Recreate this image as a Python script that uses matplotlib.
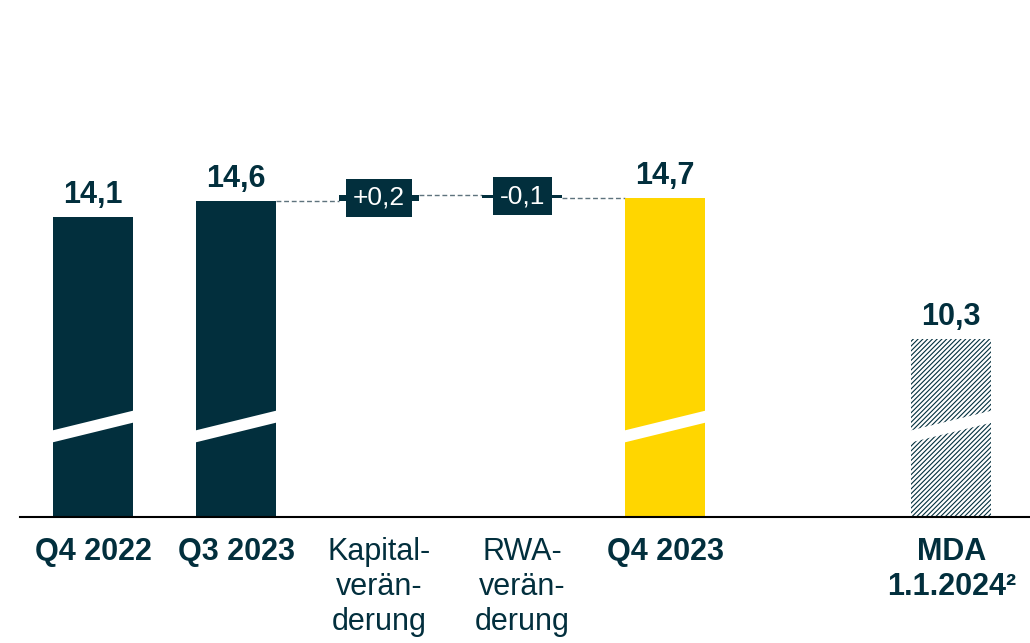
import numpy as np
import matplotlib
matplotlib.use("Agg")
from matplotlib import pyplot as plt
from matplotlib.patches import Polygon

# Data
categories = ["Q4 2022", "Q3 2023", "Kapital-\nverän-\nderung", "RWA-\nverän-\nderung", "Q4 2023", "MDA\n1.1.2024²"]
positions = [0, 1, 2, 3, 4, 6]
totals = [14.1, 14.6, None, None, 14.7, 10.3]
deltas = [None, None, 0.2, -0.1, None, None]
value_labels = ["14,1", "14,6", "+0,2", "-0,1", "14,7", "10,3"]
bold_labels = [True, True, False, False, True, True]

# Style
dark = "#022F3D"
yellow = "#FFD600"
dash_col = "#5E737D"
plt.rcParams['font.family'] = ['Liberation Sans', 'DejaVu Sans']
plt.rcParams['hatch.linewidth'] = 0.8

base = 4.725          # value at the (broken) baseline
px = 32.0             # pixels per unit
w = 0.56              # bar width

fig = plt.figure(figsize=(10.30, 6.43), dpi=100)
ax = fig.add_axes([20 / 1030, 126 / 643, 1010 / 1030, 517 / 643])
ax.set_xlim(-0.51, 6.55)
ax.set_ylim(base, base + 517 / px)
for s in ["top", "right", "left"]:
    ax.spines[s].set_visible(False)
ax.spines["bottom"].set_color("black")
ax.spines["bottom"].set_linewidth(1.5)
ax.set_xticks([])
ax.set_yticks([])


def draw_break(x):
    # white slanted band used as axis break mark
    y0, y1 = 7.0375, 7.694
    th = 0.375
    xl, xr = x - w / 2 - 0.02, x + w / 2 + 0.02
    poly = Polygon([(xl, y0), (xr, y1), (xr, y1 + th), (xl, y0 + th)],
                   closed=True, facecolor="white", edgecolor="none", zorder=3)
    ax.add_patch(poly)


# main bars
running = None
for i, (x, tot, d) in enumerate(zip(positions, totals, deltas)):
    if tot is not None:
        if i == len(positions) - 1:
            ax.bar(x, tot - base, bottom=base, width=w, facecolor="white",
                   edgecolor=dark, linewidth=0, hatch="///////", zorder=2)
        else:
            col = yellow if i == 4 else dark
            ax.bar(x, tot - base, bottom=base, width=w, color=col, linewidth=0, zorder=2)
        draw_break(x)
        ax.annotate(value_labels[i], xy=(x, tot), xytext=(0, 10), textcoords="offset points",
                    ha="center", va="baseline", fontsize=22, fontweight="bold", color=dark)
        running = tot
    else:
        start = running
        end = running + d
        ax.bar(x, end - start, bottom=start, width=w, color=dark, linewidth=0, zorder=2)
        ax.text(x, (start + end) / 2, value_labels[i], ha="center", va="center",
                fontsize=19, color="white", zorder=5,
                bbox=dict(boxstyle="square,pad=0.26", fc=dark, ec="none"))
        running = end

# dashed connectors
levels = [14.6, 14.8, 14.7]
for k, lev in enumerate(levels):
    x0 = positions[1 + k] + w / 2
    x1 = positions[2 + k] - w / 2
    ax.plot([x0, x1], [lev, lev], color=dash_col, lw=1.0, ls=(0, (3.5, 2)), zorder=1)

# category labels
for x, lab, b in zip(positions, categories, bold_labels):
    ax.text(x, -20 / 517, lab, transform=ax.get_xaxis_transform(), ha="center", va="top",
            fontsize=22, fontweight="bold" if b else "normal", color=dark,
            linespacing=1.22, clip_on=False)

fig.savefig("out.png", dpi=100)
